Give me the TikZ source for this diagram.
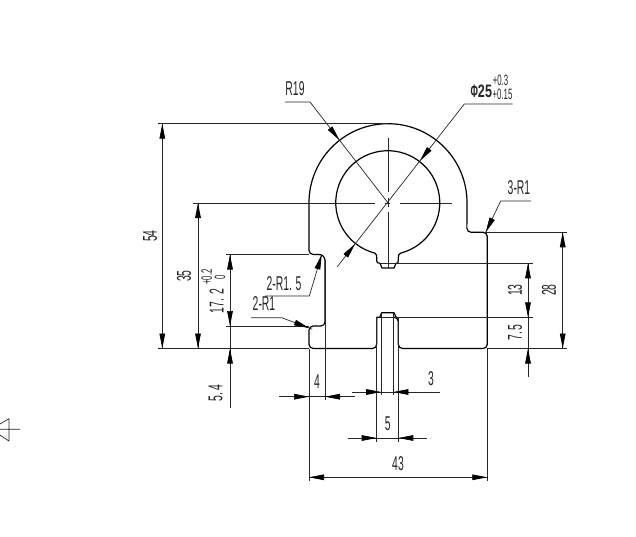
\documentclass[tikz,border=0pt]{standalone}
\usepackage{fontspec}
\setmainfont{Liberation Sans}
\usetikzlibrary{arrows.meta,calc}
\tikzset{
 x=1pt,y=-1pt,
 body/.style={line width=1.2pt,black,line join=round},
 thin line/.style={line width=0.7pt,black!85},
 tip/.style={-{Triangle[length=15pt,width=5.6pt]},line width=0.7pt,black,shorten >=0pt},
 lbl/.style={inner sep=0pt,outer sep=0pt,text=black!85},
 vlbl/.style={lbl,rotate=90},
}
\newcommand{\cond}[1]{\scalebox{0.52}[1]{\fontsize{20pt}{20pt}\selectfont #1}}
\newcommand{\condsm}[1]{\scalebox{0.52}[1]{\fontsize{15pt}{15pt}\selectfont #1}}
\begin{document}
\begin{tikzpicture}
\useasboundingbox (0,0) rectangle (636,537);
\coordinate (C) at (387.85,202.7);
% outline
\draw[body] (309,202.7) arc[start angle=180,end angle=360,radius=79]
  [rounded corners=4.2pt] -- (466.85,232.3) -- (487.3,232.3) -- (487.3,348.5) -- (398.3,348.5) -- (398.3,317.3)
  [sharp corners] -- (396.3,317.3) -- (394,312.7) -- (381.7,312.7) -- (379.7,317.3) -- (376.7,317.3)
  [rounded corners=4.2pt] -- (376.7,348.5) -- (309,348.5) -- (309,326) -- (325,326)
  [rounded corners=6pt] -- (325,326) -- (325,254.5) [rounded corners=4.2pt] -- (309,254.5) -- (309,202.7);
% bore with key notch
\draw[body] (400.6,253.1) arc[start angle=75.7,end angle=-255.7,radius=52]
  .. controls (376.7,254) and (376.7,256) .. (376.7,258) -- (376.7,261)
  .. controls (376.7,262.5) and (378,263.3) .. (380,263.3) -- (382,268) -- (394,268) -- (396,263.3)
  .. controls (397.7,263.3) and (398.3,262.5) .. (398.3,261) -- (398.3,258)
  .. controls (398.3,256) and (398.3,254) .. (400.6,253.1);
% centre lines
\draw[thin line] (193,203) -- (375,203) (385,203) -- (390,203) (400,203) -- (452.3,203);
\draw[thin line] (387.85,138.3) -- (387.85,191.7) (387.85,198) -- (387.85,206.7) (387.85,212) -- (387.85,268);
% extension lines
\draw[thin line] (158,123.7) -- (387.85,123.7);
\draw[thin line] (158,348.5) -- (309,348.5) (487.3,348.5) -- (566.7,348.5);
\draw[thin line] (226,254.5) -- (309,254.5) (226,326) -- (309,326);
\draw[thin line] (484,232.3) -- (566.7,232.3);
\draw[thin line] (380,263.3) -- (532.7,263.3) (380,317.3) -- (532.7,317.3);
\draw[thin line] (309,348.5) -- (309,481) (487.3,348.5) -- (487.3,481);
\draw[thin line] (325,260) -- (325,400);
\draw[thin line] (376.7,317.3) -- (376.7,441.7) (398.3,317.3) -- (398.3,441.7);
\draw[thin line] (381.2,313) -- (381.2,395) (393.4,313) -- (393.4,395);
% dimension 54
\draw[thin line] (162.3,123.7) -- (162.3,348.5);
\draw[tip] (162.3,139) -- (162.3,123.7);
\draw[tip] (162.3,333) -- (162.3,348.5);
% dimension 35
\draw[thin line] (198,203) -- (198,348.5);
\draw[tip] (198,218) -- (198,203);
\draw[tip] (198,333) -- (198,348.5);
% dimension 17.2 and 5.4
\draw[thin line] (230,254.5) -- (230,407.7);
\draw[tip] (230,270) -- (230,254.5);
\draw[tip] (230,311) -- (230,326);
\draw[tip] (230,363.5) -- (230,348.5);
% dimensions 13, 7.5, 28
\draw[thin line] (528,263.3) -- (528,376.7);
\draw[tip] (528,278) -- (528,263.3);
\draw[tip] (528,302) -- (528,317.3);
\draw[tip] (528,363.5) -- (528,348.5);
\draw[thin line] (562.7,232.3) -- (562.7,348.5);
\draw[tip] (562.7,247.5) -- (562.7,232.3);
\draw[tip] (562.7,333) -- (562.7,348.5);
% horizontal dimensions
\draw[thin line] (279,396.7) -- (354.7,396.7);
\draw[tip] (294,396.7) -- (309,396.7);
\draw[tip] (340,396.7) -- (325,396.7);
\draw[thin line] (352,392) -- (440,392);
\draw[tip] (366,392) -- (381.2,392);
\draw[tip] (408.5,392) -- (393.4,392);
\draw[thin line] (347.7,438) -- (427.3,438);
\draw[tip] (362,438) -- (376.7,438);
\draw[tip] (413,438) -- (398.3,438);
\draw[thin line] (309,477.3) -- (487.3,477.3);
\draw[tip] (324,477.3) -- (309,477.3);
\draw[tip] (472,477.3) -- (487.3,477.3);
% leaders
\coordinate (r19a) at (285,102);
\coordinate (r19b) at (310,102);
\draw[thin line] (r19a) -- (r19b) -- (C);
\draw[tip] (330,128) -- (339.3,140);
\coordinate (phia) at (512.7,104);
\coordinate (phib) at (464.3,104);
\coordinate (phic) at (337.3,266.7);
\draw[thin line] (phia) -- (phib) -- (phic);
\draw[tip] (429.4,148.7) -- (420,160.7);
\draw[tip] (345.6,256) -- (355,244);
\coordinate (ra) at (531,201);
\coordinate (rb) at (500.7,201);
\coordinate (rc) at (485.7,232.3);
\draw[thin line] (ra) -- (rb) -- (rc);
\draw[tip] (492.2,218.7) -- (rc);
\coordinate (sa) at (265,296);
\coordinate (sb) at (309.3,296);
\coordinate (sc) at (321.7,254.5);
\draw[thin line] (sa) -- (sb) -- (sc);
\draw[tip] (317.4,269) -- (sc);
\coordinate (ta) at (251,317.7);
\coordinate (tb) at (281.7,317.7);
\coordinate (tc) at (312.3,329.3);
\draw[thin line] (ta) -- (tb) -- (tc);
\draw[tip] (294.7,322.5) -- (309,328);
% cut symbol at the left
\draw[thin line] (0,429.3) -- (20,429.3) (9,418.7) -- (9,441) (9,418.7) -- (0,424) (9,441) -- (0,435);
% labels
\node[lbl] (tR19) at (295,89) {\cond{R19}};
\node[lbl,anchor=base east] (tPhi) at (492,98) {\scalebox{0.5}[1]{\fontsize{18pt}{18pt}\selectfont\bfseries Φ}\scalebox{0.7}[1]{\fontsize{18pt}{18pt}\selectfont\bfseries 25}};
\node[lbl] (tPhiU) at (500.5,80) {\condsm{+0.3}};
\node[lbl] (tPhiL) at (502.5,94.5) {\condsm{+0.15}};
\node[lbl] (tRone) at (519,188) {\cond{3-R1}};
\node[lbl] (tRonefive) at (284,283.5) {\cond{2-R1.\kern7pt 5}};
\node[lbl] (tRtwo) at (264,304) {\cond{2-R1}};
\node[vlbl] (t54) at (150,236) {\cond{54}};
\node[vlbl] (t35) at (184,276) {\cond{35}};
\node[vlbl] (t172) at (216.7,300.7) {\cond{17.\kern9pt 2}};
\node[vlbl] (t172u) at (206.7,277) {\condsm{+0.2}};
\node[vlbl] (t172l) at (220,277) {\condsm{0}};
\node[vlbl] (t54b) at (215.5,393) {\cond{5.\kern3pt 4}};
\node[vlbl] (t13) at (515,290) {\cond{13}};
\node[vlbl] (t75) at (515,332.5) {\cond{7.\kern2pt 5}};
\node[vlbl] (t28) at (549,290) {\cond{28}};
\node[lbl] (t4) at (317,382) {\cond{4}};
\node[lbl] (t3) at (431,378.5) {\cond{3}};
\node[lbl] (t5) at (387.7,424) {\cond{5}};
\node[lbl] (t43) at (398,464) {\cond{43}};
\end{tikzpicture}
\end{document}
